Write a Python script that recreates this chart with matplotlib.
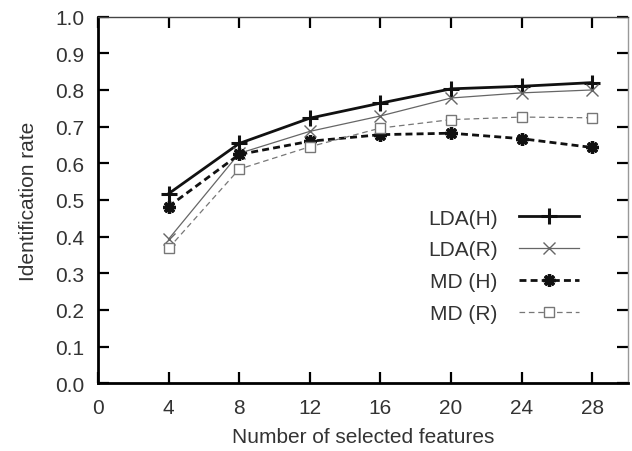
import numpy as np
import matplotlib.pyplot as plt

plt.rcParams['font.family'] = ['Liberation Sans', 'DejaVu Sans']

n_features = [4, 8, 12, 16, 20, 24, 28]
lda_h = [0.517, 0.654, 0.723, 0.764, 0.803, 0.810, 0.820]
lda_r = [0.393, 0.627, 0.687, 0.729, 0.778, 0.792, 0.800]
md_h = [0.482, 0.624, 0.660, 0.678, 0.682, 0.667, 0.643]
md_r = [0.368, 0.584, 0.645, 0.696, 0.719, 0.726, 0.724]

fig = plt.figure(figsize=(6.32, 4.52), dpi=100)
ax = fig.add_axes([0.155, 0.150, 0.838, 0.811])

ax.plot(n_features, lda_h, color='#111111', lw=2.0, marker='+', ms=11, mew=2.2,
        label='LDA(H)')
ax.plot(n_features, lda_r, color='#666666', lw=0.9, marker='x', ms=8, mew=1.0,
        label='LDA(R)')
ax.plot(n_features, md_h, color='#111111', lw=2.0, ls=(0, (2.5, 1.5)),
        marker=(8, 2, 0), ms=9, mew=2.4, label='MD (H)')
ax.plot(n_features, md_r, color='#777777', lw=0.9, ls=(0, (4.5, 3)),
        marker='s', ms=6.5, mew=1.0, mfc='white', label='MD (R)')

ax.set_xlim(0, 30)
ax.set_ylim(0, 1.0)
ax.set_xticks(np.arange(0, 29, 4))
ax.set_yticks(np.arange(0, 1.01, 0.1))
ax.set_yticklabels([f'{v:.1f}' for v in np.arange(0, 1.01, 0.1)])

ax.tick_params(direction='in', length=8, width=1.6, top=True, right=True,
               labelsize=15, labelcolor='#333333')
ax.tick_params(axis='x', pad=11)
ax.tick_params(axis='y', pad=10)
ax.spines['left'].set_linewidth(2.0)
ax.spines['bottom'].set_linewidth(2.0)
ax.spines['top'].set_linewidth(1.0)
ax.spines['top'].set_color('#444444')
ax.spines['right'].set_linewidth(1.0)
ax.spines['right'].set_color('#999999')

ax.set_xlabel('Number of selected features', fontsize=15, color='#333333', labelpad=7)
ax.set_ylabel('Identification rate', fontsize=15, color='#333333', labelpad=12)

# legend: label text first, line sample on the right
ax.legend(loc='lower right', bbox_to_anchor=(0.928, 0.135), frameon=False,
          markerfirst=False, fontsize=15, handlelength=2.9, handletextpad=1.0,
          labelspacing=0.62, labelcolor='#333333', borderpad=0)

fig.savefig('out.png', dpi=100)
